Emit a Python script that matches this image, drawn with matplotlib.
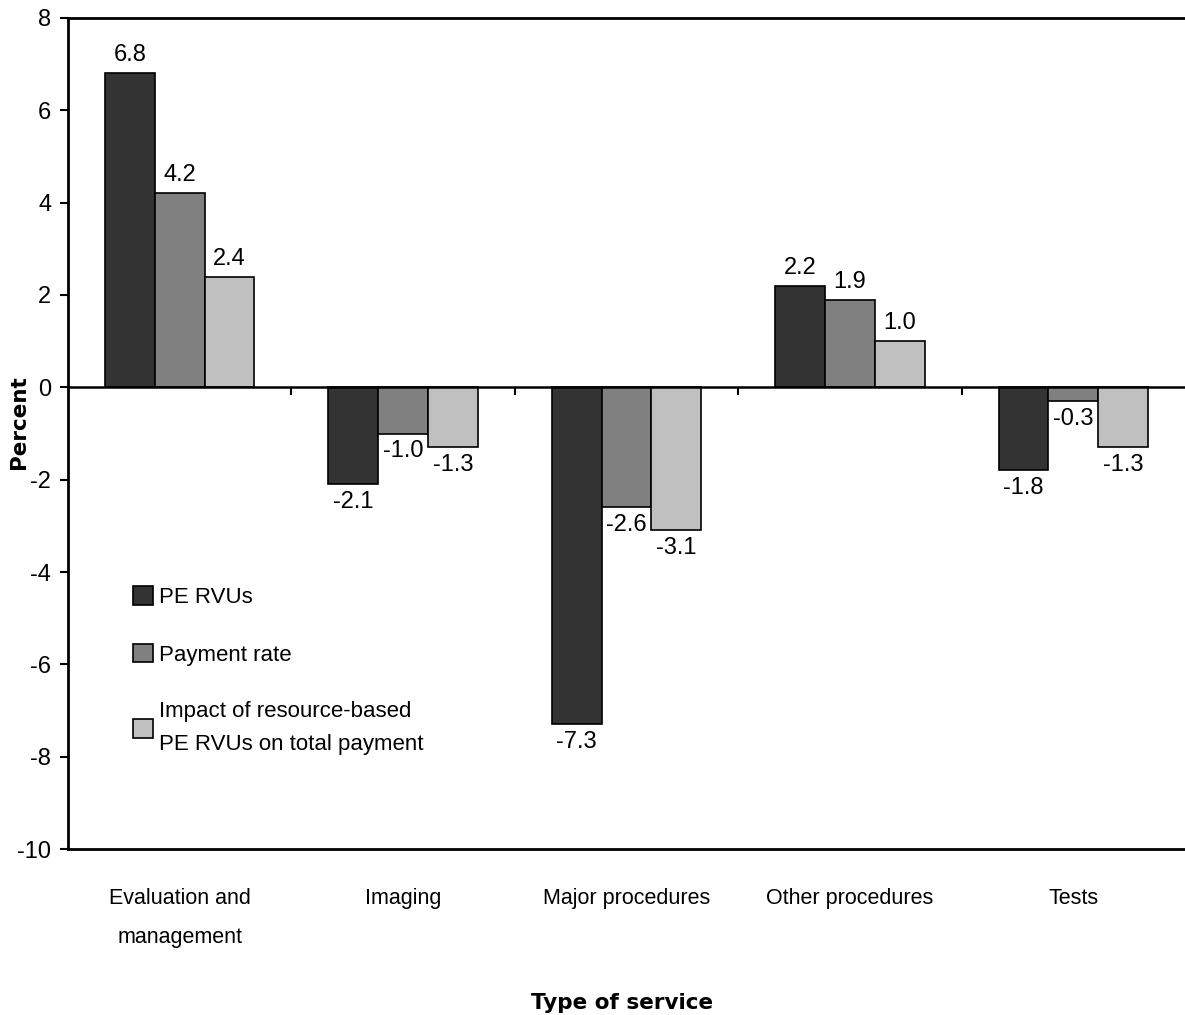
import matplotlib
matplotlib.use('Agg')
import matplotlib.pyplot as plt
import numpy as np

categories = ['Evaluation and\nmanagement', 'Imaging', 'Major procedures', 'Other procedures', 'Tests']
series_names = ['PE RVUs', 'Payment rate', 'Impact of resource-based\nPE RVUs on total payment']
pe_rvus = [6.8, -2.1, -7.3, 2.2, -1.8]
payment_rate = [4.2, -1.0, -2.6, 1.9, -0.3]
impact = [2.4, -1.3, -3.1, 1.0, -1.3]
yticks = [8, 6, 4, 2, 0, -2, -4, -6, -8, -10]

colors = ['#333333', '#808080', '#c0c0c0']
num_font = 'Liberation Sans'
label_font = 'Liberation Sans'
bold_font = 'DejaVu Sans'

fig = plt.figure(figsize=(11.85, 10.15), dpi=100)
ax = fig.add_axes([0.0574, 0.1635, 0.9426, 0.8188])

x = np.arange(len(categories))
w = 0.223
for i, vals in enumerate([pe_rvus, payment_rate, impact]):
    bars = ax.bar(x + (i - 1) * w, vals, w, color=colors[i], edgecolor='black',
                  linewidth=1.2, label=series_names[i], zorder=2)
    for b, v in zip(bars, vals):
        cx = b.get_x() + b.get_width() / 2
        off = 5 if v >= 0 else -5
        ax.annotate('%.1f' % v, (cx, v), xytext=(0, off), textcoords='offset points',
                    ha='center', va='bottom' if v >= 0 else 'top',
                    fontsize=17, family=num_font)

ax.set_xlim(-0.5, len(categories) - 0.5)
ax.set_ylim(-10, 8)
ax.axhline(0, color='black', linewidth=1.8, zorder=3)
# category separators hanging below the zero line
ax.vlines(x[:-1] + 0.5, -0.17, 0, color='black', linewidth=1.5, zorder=3)

ax.set_yticks(yticks)
ax.set_yticklabels([str(t) for t in yticks], fontsize=17, family=num_font)
ax.tick_params(axis='y', direction='out', length=6, width=1.5, pad=6)
ax.set_xticks(x)
ax.set_xticklabels(categories, fontsize=15.5, family=label_font, linespacing=2.1, va='top')
ax.tick_params(axis='x', length=0, pad=28)

for s in ['left', 'top', 'bottom']:
    ax.spines[s].set_linewidth(2)
ax.spines['right'].set_visible(False)

fig.text(0.016, 0.584, 'Percent', rotation=90, ha='center', va='center',
         fontsize=15.5, fontweight='bold', family=bold_font)
fig.text(0.525, 0.012, 'Type of service', ha='center', va='center',
         fontsize=15.5, fontweight='bold', family=bold_font)

leg = ax.legend(loc='upper left', bbox_to_anchor=(0.04, 0.34), frameon=False,
                prop={'family': label_font, 'size': 16}, handlelength=0.9, handleheight=0.9,
                handletextpad=0.3, labelspacing=1.6)
for t in leg.get_texts():
    t.set_linespacing(1.7)

fig.savefig('out.png', dpi=100)
